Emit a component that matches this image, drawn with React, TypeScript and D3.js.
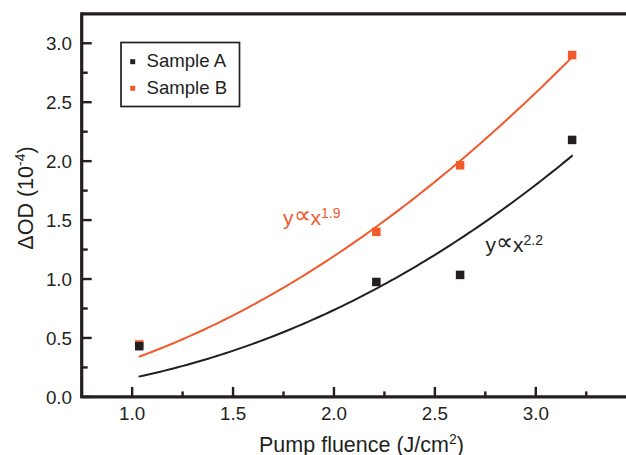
import React from "react";
import * as d3 from "d3";

const fluence = [1.035, 2.21, 2.625, 3.18];
const sampleA = [0.43, 0.975, 1.035, 2.18];
const sampleB = [0.445, 1.4, 1.965, 2.9];
const fitA = { coef: 0.1605, exponent: 2.2, label: "2.2" };
const fitB = { coef: 0.32, exponent: 1.9, label: "1.9" };
const fitRange = [1.032, 3.183];
const xTicks = [1.0, 1.5, 2.0, 2.5, 3.0];
const xMinor = [1.25, 1.75, 2.25, 2.75, 3.25];
const yTicks = [0.0, 0.5, 1.0, 1.5, 2.0, 2.5, 3.0];
const yMinor = [0.25, 0.75, 1.25, 1.75, 2.25, 2.75];

const W = 626;
const H = 455;
const DARK = "#231f20";
const ORANGE = "#f15a2b";
const FONT = "'Liberation Sans', Arial, Helvetica, sans-serif";

export default function App() {
  const x = d3.scaleLinear().domain([0.75, 3.447]).range([81.7, 626]);
  const y = d3.scaleLinear().domain([0, 3.25]).range([396.9, 13.8]);
  const left = x(0.75);
  const bottom = y(0);
  const top = y(3.25);

  const fitPts = (f: { coef: number; exponent: number }) =>
    d3.range(0, 101).map((i) => {
      const xv = fitRange[0] + ((fitRange[1] - fitRange[0]) * i) / 100;
      return [xv, f.coef * Math.pow(xv, f.exponent)] as [number, number];
    });
  const line = d3
    .line<[number, number]>()
    .x((d) => x(d[0]))
    .y((d) => y(d[1]));

  const sq = 8.5;

  return (
    <svg
      width={W}
      height={H}
      style={{ position: "absolute", left: 0, top: 0, display: "block", background: "#fff" }}
      fontFamily={FONT}
    >
      {/* fits */}
      <path d={line(fitPts(fitB)) || ""} fill="none" stroke={ORANGE} strokeWidth={2} />
      <path d={line(fitPts(fitA)) || ""} fill="none" stroke={DARK} strokeWidth={2} />

      {/* points: B first then A on top */}
      {fluence.map((f, i) => (
        <rect key={"b" + i} x={x(f) - sq / 2} y={y(sampleB[i]) - sq / 2} width={sq} height={sq} fill={ORANGE} />
      ))}
      {fluence.map((f, i) => (
        <rect key={"a" + i} x={x(f) - sq / 2} y={y(sampleA[i]) - sq / 2} width={sq} height={sq} fill={DARK} />
      ))}

      {/* axes frame */}
      <line x1={left} x2={W} y1={top} y2={top} stroke={DARK} strokeWidth={3.2} />
      <line x1={left - 1.6} x2={W} y1={bottom} y2={bottom} stroke={DARK} strokeWidth={3.2} />
      <line x1={left} x2={left} y1={top - 1.6} y2={bottom} stroke={DARK} strokeWidth={3.2} />

      {/* y ticks */}
      {yTicks.map((t) => (
        <g key={"yt" + t}>
          <line x1={left} x2={left + 10} y1={y(t)} y2={y(t)} stroke={DARK} strokeWidth={2.4} />
          <text x={72} y={y(t)} dy="0.36em" textAnchor="end" fontSize={18.8} fill={DARK}>
            {t.toFixed(1)}
          </text>
        </g>
      ))}
      {yMinor.map((t) => (
        <line key={"ym" + t} x1={left} x2={left + 6} y1={y(t)} y2={y(t)} stroke={DARK} strokeWidth={2.4} />
      ))}

      {/* x ticks */}
      {xTicks.map((t) => (
        <g key={"xt" + t}>
          <line x1={x(t)} x2={x(t)} y1={bottom} y2={bottom - 10} stroke={DARK} strokeWidth={2.4} />
          <text x={x(t)} y={420} textAnchor="middle" fontSize={18.8} fill={DARK}>
            {t.toFixed(1)}
          </text>
        </g>
      ))}
      {xMinor.map((t) => (
        <line key={"xm" + t} x1={x(t)} x2={x(t)} y1={bottom} y2={bottom - 5.5} stroke={DARK} strokeWidth={2.4} />
      ))}

      {/* axis titles */}
      <text x={361.5} y={451.5} textAnchor="middle" fontSize={21.5} fill={DARK}>
        Pump fluence (J/cm
        <tspan dy={-8} fontSize={14}>2</tspan>
        <tspan dy={8}>)</tspan>
      </text>
      <text
        transform={`translate(33,${198}) rotate(-90)`}
        textAnchor="middle"
        fontSize={21.5}
        fill={DARK}
      >
        ΔOD (10
        <tspan dy={-8} fontSize={14}>-4</tspan>
        <tspan dy={8}>)</tspan>
      </text>

      {/* legend */}
      <rect x={121} y={42.5} width={118.5} height={64} fill="#fff" stroke={DARK} strokeWidth={1.7} />
      <rect x={130.2} y={59.2} width={5} height={5} fill={DARK} />
      <text x={146.5} y={67} fontSize={18.6} fill={DARK}>Sample A</text>
      <rect x={130.2} y={85.8} width={5} height={5} fill={ORANGE} />
      <text x={146.5} y={93.6} fontSize={18.6} fill={DARK}>Sample B</text>

      {/* annotations */}
      <text x={283} y={225} fontSize={21} fill={ORANGE}>
        y
        <tspan fontSize={24} fontWeight={200} dy={-2}>∝</tspan>
        <tspan dy={2}>x</tspan>
        <tspan fontSize={14} dy={-7}>{fitB.label}</tspan>
      </text>
      <text x={485.5} y={251.7} fontSize={21} fill={DARK}>
        y
        <tspan fontSize={24} fontWeight={200} dy={-2}>∝</tspan>
        <tspan dy={2}>x</tspan>
        <tspan fontSize={14} dy={-7}>{fitA.label}</tspan>
      </text>
    </svg>
  );
}
